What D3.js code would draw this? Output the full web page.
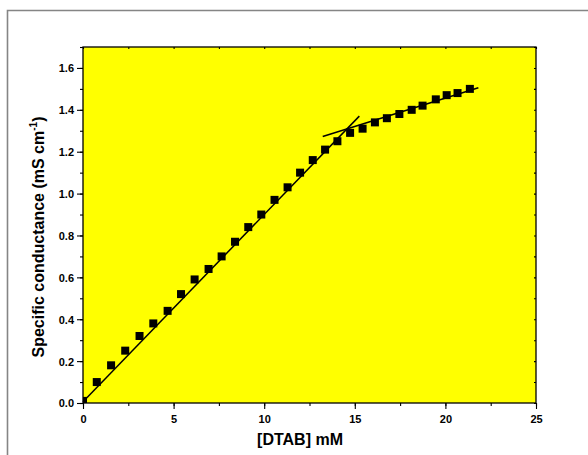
<!DOCTYPE html>
<html><head><meta charset="utf-8">
<script src="https://cdn.jsdelivr.net/npm/d3@7"></script>
<style>body{margin:0;background:#fff}svg{display:block}</style>
</head><body>
<script>
const concentration = [0, 0.76, 1.55, 2.33, 3.12, 3.88, 4.67, 5.41, 6.16, 6.93, 7.65, 8.39, 9.12, 9.84, 10.57, 11.29, 11.98, 12.68, 13.36, 14.04, 14.74, 15.43, 16.11, 16.77, 17.46, 18.14, 18.74, 19.47, 20.07, 20.67, 21.35];
const conductance = [0.01, 0.10, 0.18, 0.25, 0.32, 0.38, 0.44, 0.52, 0.59, 0.64, 0.70, 0.77, 0.84, 0.90, 0.97, 1.03, 1.10, 1.16, 1.21, 1.25, 1.29, 1.31, 1.34, 1.36, 1.38, 1.40, 1.42, 1.45, 1.47, 1.48, 1.50];
const fitPreX = [0, 15.25];
const fitPreY = [0.006, 1.37];
const fitPostX = [13.23, 21.82];
const fitPostY = [1.273, 1.505];
const xTicks = [0, 5, 10, 15, 20, 25];
const yTicks = [0.0, 0.2, 0.4, 0.6, 0.8, 1.0, 1.2, 1.4, 1.6];
const xTitle = "[DTAB] mM";

const W = 588, H = 455;
const L = 83, R = 536, T = 47, B = 403;
const svg = d3.select("body").append("svg").attr("width", W).attr("height", H);
const x = d3.scaleLinear().domain([0, 25]).range([L, R]);
const y = d3.scaleLinear().domain([0, 1.7]).range([B, T]);

// outer frame
svg.append("path").attr("d", `M7.5,${H} L7.5,10.5 L${W},10.5`).attr("fill", "none")
  .attr("stroke", "#858585").attr("stroke-width", 1.6);

svg.append("rect").attr("x", L).attr("y", T).attr("width", R - L).attr("height", B - T).attr("fill", "#ffff00");

svg.append("clipPath").attr("id", "clip").append("rect").attr("x", L).attr("y", T).attr("width", R - L).attr("height", B - T);

const font = "'Liberation Sans', Arial, sans-serif";

// axes
const xMinor = d3.range(0, 25.01, 2.5);
const yMinor = d3.range(0, 1.71, 0.1);
const bottom = svg.append("g").attr("transform", `translate(0,${B})`)
  .call(d3.axisBottom(x).tickValues(xTicks).tickFormat(d3.format("d")).tickSize(6).tickSizeOuter(0));
svg.append("g").attr("transform", `translate(0,${B})`)
  .call(d3.axisBottom(x).tickValues(xMinor).tickFormat("").tickSize(3).tickSizeOuter(0));
const left = svg.append("g").attr("transform", `translate(${L},0)`)
  .call(d3.axisLeft(y).tickValues(yTicks).tickFormat(d3.format(".1f")).tickSize(6).tickSizeOuter(0));
svg.append("g").attr("transform", `translate(${L},0)`)
  .call(d3.axisLeft(y).tickValues(yMinor).tickFormat("").tickSize(3).tickSizeOuter(0));
svg.append("g").attr("transform", `translate(0,${T})`)
  .call(d3.axisBottom(x).tickValues(xMinor).tickFormat("").tickSize(2).tickSizeOuter(0));
svg.append("g").attr("transform", `translate(${R},0)`)
  .call(d3.axisLeft(y).tickValues(yMinor).tickFormat("").tickSize(2).tickSizeOuter(0));

svg.selectAll(".domain").remove();
svg.selectAll(".tick line").attr("stroke", "#000").attr("stroke-width", 1.1);
svg.selectAll(".tick text").attr("font-family", font).attr("font-weight", "bold").attr("font-size", 11).attr("fill", "#000");
bottom.selectAll(".tick text").attr("dy", null).attr("y", 20);
left.selectAll(".tick text").attr("x", -9).attr("dy", "0.36em");

svg.append("rect").attr("x", L).attr("y", T).attr("width", R - L).attr("height", B - T)
  .attr("fill", "none").attr("stroke", "#000").attr("stroke-width", 1.3);

// fit lines
const line = d3.line().x(d => x(d[0])).y(d => y(d[1]));
svg.append("path").datum(d3.zip(fitPreX, fitPreY)).attr("d", line)
  .attr("stroke", "#000").attr("stroke-width", 1.5).attr("fill", "none");
svg.append("path").datum(d3.zip(fitPostX, fitPostY)).attr("d", line)
  .attr("stroke", "#000").attr("stroke-width", 1.5).attr("fill", "none");

// points
const s = 8;
svg.append("g").attr("clip-path", "url(#clip)").selectAll("rect.pt").data(d3.zip(concentration, conductance)).join("rect")
  .attr("x", d => x(d[0]) - s / 2).attr("y", d => y(d[1]) - s / 2)
  .attr("width", s).attr("height", s).attr("fill", "#000");

// titles
svg.append("text").attr("x", 300).attr("y", 445).attr("text-anchor", "middle")
  .attr("font-family", font).attr("font-weight", "bold").attr("font-size", 16).text(xTitle);

const yt = svg.append("text").attr("transform", "translate(44,237) rotate(-90)").attr("text-anchor", "middle")
  .attr("font-family", font).attr("font-weight", "bold").attr("font-size", 16);
yt.append("tspan").text("Specific conductance (mS cm");
yt.append("tspan").attr("font-size", 10).attr("dy", -7).text("-1");
yt.append("tspan").attr("dy", 7).text(")");
</script>
</body></html>
